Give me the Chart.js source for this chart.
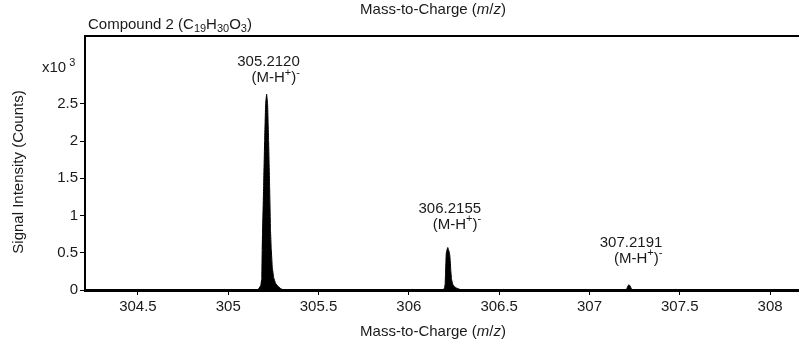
<!DOCTYPE html>
<html>
<head>
<meta charset="utf-8">
<script src="https://cdn.jsdelivr.net/npm/chart.js@4/dist/chart.umd.min.js"></script>
<style>
  html, body { margin: 0; padding: 0; background: #fff; }
  #wrap { width: 799px; height: 341px; }
</style>
</head>
<body>
<div id="wrap"><canvas id="spec" width="799" height="341"></canvas></div>
<script>
// Profile spectrum of compound 2, negative ion mode (intensity in x10^3 counts)
const mzValues = [
  304.207,
  305.160, 305.170, 305.180, 305.186, 305.188, 305.196, 305.2015, 305.207, 305.2125,
  305.218, 305.2235, 305.229, 305.234, 305.238, 305.244, 305.252, 305.262, 305.275, 305.290, 305.305,
  306.190, 306.198, 306.201, 306.203, 306.205, 306.207, 306.211, 306.2155,
  306.220, 306.226, 306.229, 306.232, 306.236, 306.242, 306.252, 306.265, 306.280, 306.290,
  307.202, 307.208, 307.214, 307.2191, 307.225, 307.231, 307.240,
  308.160
];
const intensityValues = [
  0,
  0, 0.02, 0.06, 0.15, 0.55, 1.40, 2.00, 2.50, 2.63,
  2.50, 2.00, 1.40, 0.80, 0.55, 0.30, 0.16, 0.09, 0.05, 0.02, 0,
  0, 0.03, 0.08, 0.22, 0.38, 0.49, 0.54, 0.57,
  0.54, 0.48, 0.40, 0.27, 0.15, 0.08, 0.045, 0.025, 0.01, 0,
  0, 0.025, 0.06, 0.07, 0.055, 0.02, 0,
  0
];

// Labelled ions
const ionMz = [305.2120, 306.2155, 307.2191];
const ionLabels = ['305.2120', '306.2155', '307.2191'];

// Axis ticks
const xTickValues = [304.5, 305, 305.5, 306, 306.5, 307, 307.5, 308];
const xTickLabels = ['304.5', '305', '305.5', '306', '306.5', '307', '307.5', '308'];
const yTickValues = [0, 0.5, 1, 1.5, 2, 2.5];
const yTickLabels = ['0', '0.5', '1', '1.5', '2', '2.5'];

const FONT = 'Liberation Sans, Arial, Helvetica, sans-serif';
const INK = '#1a1a1a';

// Draws a run of text pieces: plain, sub, sup or italic
function drawRich(ctx, segs, x, y, align, size) {
  const fontFor = s => {
    const sz = (s.t === 'sub' || s.t === 'sup') ? Math.round(size * 0.72) : size;
    return (s.t === 'i' ? 'italic ' : '') + sz + 'px ' + FONT;
  };
  let total = 0;
  segs.forEach(s => { ctx.font = fontFor(s); total += ctx.measureText(s.s).width; });
  let cx = align === 'center' ? x - total / 2 : (align === 'right' ? x - total : x);
  ctx.textAlign = 'left';
  ctx.textBaseline = 'alphabetic';
  segs.forEach(s => {
    ctx.font = fontFor(s);
    let dy = 0;
    if (s.t === 'sub') dy = size * 0.22;
    if (s.t === 'sup') dy = -size * 0.42;
    ctx.fillText(s.s, cx, y + dy);
    cx += ctx.measureText(s.s).width;
  });
  return total;
}

const ionGap = [28, 35, 38];

const decorations = {
  id: 'decorations',
  afterDraw(chart) {
    const ctx = chart.ctx;
    const a = chart.chartArea;
    const xs = chart.scales.x, ys = chart.scales.y;
    ctx.save();
    // frame line along the top
    ctx.strokeStyle = '#000';
    ctx.lineWidth = 2;
    ctx.beginPath();
    ctx.moveTo(a.left - 1, a.top);
    ctx.lineTo(a.right, a.top);
    ctx.stroke();

    ctx.fillStyle = INK;
    const mid = (a.left + a.right) / 2 - 9;
    const axisTitle = [{s: 'Mass-to-Charge ('}, {s: 'm', t: 'i'}, {s: '/'}, {s: 'z', t: 'i'}, {s: ')'}];
    drawRich(ctx, axisTitle, mid, 14, 'center', 15);
    drawRich(ctx, axisTitle, mid, 336, 'center', 15);

    drawRich(ctx, [{s: 'Compound 2 ('}, {s: 'C'}, {s: '19', t: 'sub'}, {s: 'H'}, {s: '30', t: 'sub'},
                   {s: 'O'}, {s: '3', t: 'sub'}, {s: ')'}], 88, 29, 'left', 15);

    drawRich(ctx, [{s: 'x10'}, {s: ' 3', t: 'sup'}], 42, 72, 'left', 15);

    ctx.save();
    ctx.translate(23, 172);
    ctx.rotate(-Math.PI / 2);
    drawRich(ctx, [{s: 'Signal Intensity (Counts)'}], 0, 0, 'center', 15);
    ctx.restore();

    // ion labels above each peak apex
    ionMz.forEach((mz, i) => {
      let apex = 0;
      mzValues.forEach((m, k) => { if (Math.abs(m - mz) < 0.05) apex = Math.max(apex, intensityValues[k]); });
      const px = xs.getPixelForValue(mz) + 2;
      const py = ys.getPixelForValue(apex) - ionGap[i];
      ctx.font = '15px ' + FONT;
      const w = ctx.measureText(ionLabels[i]).width;
      drawRich(ctx, [{s: ionLabels[i]}], px, py, 'center', 15);
      drawRich(ctx, [{s: '(M-H'}, {s: '+', t: 'sup'}, {s: ')'}, {s: '-', t: 'sup'}], px + w / 2, py + 16, 'right', 15);
    });
    ctx.restore();
  }
};

new Chart(document.getElementById('spec'), {
  type: 'scatter',
  data: {
    datasets: [{
      data: mzValues.map((m, i) => ({x: m, y: intensityValues[i]})),
      showLine: true,
      fill: 'origin',
      backgroundColor: '#000',
      borderColor: '#000',
      borderWidth: 1,
      pointRadius: 0,
      // a hair of tension keeps every vertex in the outline (no per-pixel path merging)
      tension: 0.000001
    }]
  },
  options: {
    responsive: false,
    devicePixelRatio: 1,
    animation: false,
    layout: {padding: {top: 36, right: 0, left: 0, bottom: 0}},
    plugins: {legend: {display: false}, tooltip: {enabled: false}},
    scales: {
      x: {
        type: 'linear',
        min: 304.207,
        max: 308.16,
        afterFit: s => { s.height = 51; },
        afterBuildTicks: s => { s.ticks = xTickValues.map(v => ({value: v})); },
        grid: {drawOnChartArea: false, drawTicks: true, tickLength: 5, color: '#000', lineWidth: 1},
        border: {display: true, color: '#000', width: 3},
        ticks: {
          color: INK, padding: 3, maxRotation: 0, autoSkip: false,
          font: {family: FONT, size: 15},
          callback: (v) => xTickLabels[xTickValues.indexOf(v)]
        }
      },
      y: {
        type: 'linear',
        min: 0,
        max: 3.41,
        afterFit: s => { s.width = 85; },
        afterBuildTicks: s => { s.ticks = yTickValues.map(v => ({value: v})); },
        grid: {drawOnChartArea: false, drawTicks: true, tickLength: 5, color: '#000', lineWidth: 1},
        border: {display: true, color: '#000', width: 2},
        ticks: {
          color: INK, padding: 2, autoSkip: false,
          font: {family: FONT, size: 15},
          callback: (v) => yTickLabels[yTickValues.indexOf(v)]
        }
      }
    }
  },
  plugins: [decorations]
});
</script>
</body>
</html>
